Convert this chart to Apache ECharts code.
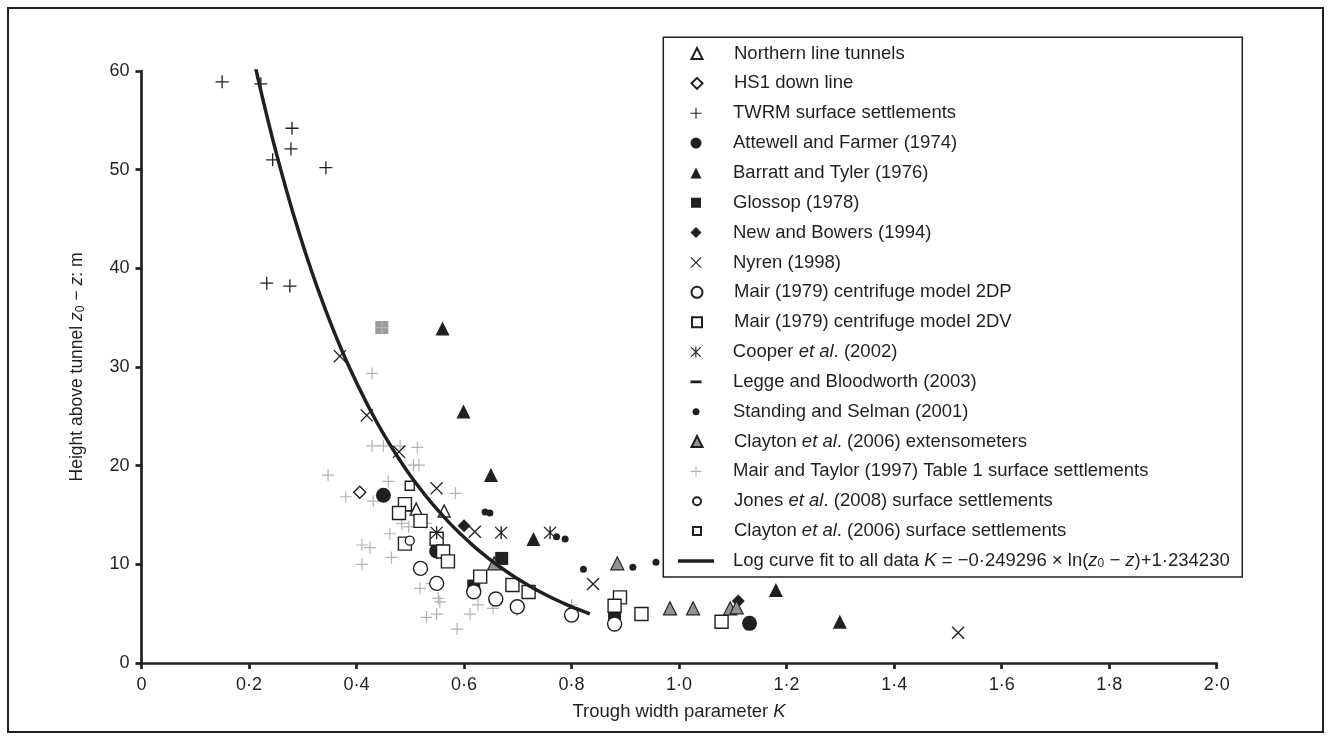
<!DOCTYPE html>
<html>
<head>
<meta charset="utf-8">
<title>Trough width parameter K against height above tunnel</title>
<script src="https://cdn.jsdelivr.net/npm/echarts@6/dist/echarts.min.js"></script>
<style>
  html, body { margin: 0; padding: 0; background: #fff; }
  #chart { width: 1329px; height: 740px; }
</style>
</head>
<body>
<div id="chart"></div>
<script>
// ---- data: [K, z0 - z (m)] ----
const northernLine = [[0.493, 16.0], [0.511, 15.6], [0.563, 15.4]];
const hs1DownLine = [[0.406, 17.3]];
const twrmSurface = [[0.150, 58.9], [0.222, 58.7], [0.280, 54.2], [0.278, 52.1], [0.244, 51.0],
  [0.343, 50.2], [0.233, 38.5], [0.276, 38.2]];
const attewellFarmer = [[0.450, 17.0], [0.549, 11.35], [1.131, 4.02]];
const barrattTyler = [[0.560, 33.9], [0.599, 25.5], [0.650, 19.05], [0.729, 12.56], [1.180, 7.4], [1.299, 4.18]];
const glossop = [[0.670, 10.6], [0.618, 7.8], [0.880, 5.03]];
const newBowers = [[0.600, 13.9], [1.110, 6.28]];
const nyren = [[0.369, 31.1], [0.419, 25.1], [0.479, 21.4], [0.549, 17.7], [0.620, 13.3], [0.840, 8.0], [1.519, 3.07]];
const mair2DP = [[0.519, 9.59], [0.549, 8.07], [0.618, 7.22], [0.659, 6.48], [0.699, 5.7], [0.800, 4.86], [0.880, 3.95]];
const mair2DV = [[0.490, 16.1], [0.479, 15.2], [0.519, 14.4], [0.490, 12.1], [0.549, 12.6], [0.561, 11.3],
  [0.570, 10.3], [0.630, 8.75], [0.690, 7.9], [0.720, 7.2], [0.890, 6.65], [0.880, 5.8], [0.930, 4.96], [1.079, 4.18]];
const cooper = [[0.549, 13.2], [0.669, 13.2], [0.760, 13.2]];
const leggeBloodworth = [];
const standingSelman = [[0.639, 15.3], [0.648, 15.2], [0.772, 12.8], [0.788, 12.56], [0.822, 9.5], [0.914, 9.7], [0.957, 10.2]];
const claytonExt = [[0.656, 10.1], [0.885, 10.1], [0.983, 5.54], [1.026, 5.54], [1.095, 5.54], [1.107, 5.64]];
const mairTaylor = [[0.447, 34.0], [0.429, 29.35], [0.429, 22.0], [0.450, 22.0], [0.481, 22.0], [0.513, 21.85], [0.506, 20.06],
  [0.516, 20.06], [0.347, 19.05], [0.459, 18.4], [0.584, 17.2], [0.380, 16.85], [0.431, 16.4], [0.484, 14.15],
  [0.497, 13.8], [0.462, 13.1], [0.529, 14.15], [0.410, 11.96], [0.425, 11.7], [0.465, 10.7], [0.410, 10.0],
  [0.518, 7.57], [0.540, 8.07], [0.552, 6.55], [0.555, 6.2], [0.530, 4.63], [0.549, 4.96], [0.587, 3.44],
  [0.626, 5.9], [0.611, 4.96], [0.654, 5.54], [0.698, 5.37], [0.800, 5.88]];
const jonesSurface = [[0.499, 12.4]];
const claytonSurface = [[0.499, 17.96]];
const greySquare = [[0.447, 34.0]];

// log fit K = A ln(z0 - z) + B, sampled over the plotted depth range
const FIT_A = -0.249296;
const FIT_B = 1.234230;
const fitDepths = [4.98, 5.5, 6, 7, 8, 9, 10, 11, 12, 14, 16, 18, 20, 23, 26, 30, 34, 38, 42, 46, 50, 55, 60.8];

const xTicks = [0, 0.2, 0.4, 0.6, 0.8, 1.0, 1.2, 1.4, 1.6, 1.8, 2.0];
const yTicks = [0, 10, 20, 30, 40, 50, 60];

// ---- styling ----
const INK = '#231f20';
const GREY = '#b4b4b4';
const FONT = '"Liberation Sans", Arial, Helvetica, sans-serif';
const FS = 18.5;

// filled-outline symbols (overlapping bars of the same winding)
const PLUS = 'path://M-10,-1 L10,-1 L10,1 L-10,1 Z M-1,-10 L1,-10 L1,10 L-1,10 Z';
const CROSS = 'path://M-8.29,-9.71 L9.71,8.29 L8.29,9.71 L-9.71,-8.29 Z M9.71,-8.29 L-8.29,9.71 L-9.71,8.29 L8.29,-9.71 Z';
const ASTERISK = 'path://M-1,-10 L1,-10 L1,10 L-1,10 Z M-8.29,-9.71 L9.71,8.29 L8.29,9.71 L-9.71,-8.29 Z M9.71,-8.29 L-8.29,9.71 L-9.71,8.29 L8.29,-9.71 Z';
const DASH = 'path://M0,0 L12,0 L12,3 L0,3 Z';

const hollow = { color: '#fff', borderColor: INK, borderWidth: 1.4, opacity: 1 };
const solid = { color: INK, opacity: 1 };

function scatter(name, data, symbol, size, itemStyle, z) {
  return { name, type: 'scatter', data, symbol, symbolSize: size, itemStyle, z: z || 2, silent: true };
}

const fitLine = fitDepths.map(d => [FIT_A * Math.log(d) + FIT_B, d]);
const FIT_NAME = 'Log curve fit to all data';

const series = [
  scatter('grey square', greySquare, 'rect', 13, { color: '#9a9a9a', opacity: 1 }, 1),
  scatter('Mair and Taylor (1997) Table 1 surface settlements', mairTaylor, PLUS, 12, { color: GREY, opacity: 1 }, 1.5),
  scatter('Northern line tunnels', northernLine, 'triangle', 12, hollow),
  scatter('HS1 down line', hs1DownLine, 'diamond', 12, hollow),
  scatter('TWRM surface settlements', twrmSurface, PLUS, 13, solid),
  scatter('Attewell and Farmer (1974)', attewellFarmer, 'circle', 15, solid),
  scatter('Barratt and Tyler (1976)', barrattTyler, 'triangle', 14, solid),
  scatter('Glossop (1978)', glossop, 'rect', 13, solid),
  scatter('New and Bowers (1994)', newBowers, 'diamond', 13, solid),
  scatter('Nyren (1998)', nyren, CROSS, 13, solid),
  scatter('Mair (1979) centrifuge model 2DP', mair2DP, 'circle', 14, hollow),
  scatter('Mair (1979) centrifuge model 2DV', mair2DV, 'rect', 13, hollow),
  scatter('Cooper et al. (2002)', cooper, ASTERISK, 13, solid),
  scatter('Legge and Bloodworth (2003)', leggeBloodworth, DASH, [12, 3], solid),
  scatter('Standing and Selman (2001)', standingSelman, 'circle', 7, solid),
  scatter('Clayton et al. (2006) extensometers', claytonExt, 'triangle', 13,
    { color: '#939393', borderColor: INK, borderWidth: 1.2, opacity: 1 }),
  scatter('Jones et al. (2008) surface settlements', jonesSurface, 'circle', 9, hollow),
  scatter('Clayton et al. (2006) surface settlements', claytonSurface, 'rect', 9, hollow),
  {
    name: FIT_NAME, type: 'line', data: fitLine, smooth: true,
    symbol: 'none', showSymbol: false, silent: true, z: 3,
    lineStyle: { color: INK, width: 3.5 }, itemStyle: { color: INK }
  }
];

// legend rows, top to bottom, with the icon box used for each
const legendRows = [
  ['Northern line tunnels', 11, 11], ['HS1 down line', 11, 11], ['TWRM surface settlements', 11, 11],
  ['Attewell and Farmer (1974)', 11, 11], ['Barratt and Tyler (1976)', 11, 11], ['Glossop (1978)', 10, 10],
  ['New and Bowers (1994)', 11, 11], ['Nyren (1998)', 11, 11], ['Mair (1979) centrifuge model 2DP', 11, 11],
  ['Mair (1979) centrifuge model 2DV', 10, 10], ['Cooper et al. (2002)', 11, 11],
  ['Legge and Bloodworth (2003)', 11, 3], ['Standing and Selman (2001)', 7, 7],
  ['Clayton et al. (2006) extensometers', 11, 11], ['Mair and Taylor (1997) Table 1 surface settlements', 11, 11],
  ['Jones et al. (2008) surface settlements', 8, 8], ['Clayton et al. (2006) surface settlements', 8, 8],
  [FIT_NAME, 36, 3.5]
];

const LEG_BOX = { x: 663.3, y: 37.3, w: 579, h: 539.7 };
const ROW0 = 53.5, ROW_STEP = 29.85, ICON_CX = 696, TEXT_X = 733, TEXT_LH = 20;

function legendLabel(name) {
  if (name === FIT_NAME) {
    return name + ' {i|K} = \u22120\u00b7249296 \u00d7 ln({i|z}{s|0} \u2212 {i|z})+1\u00b7234230';
  }
  return name.replace('et al.', '{i|et al}.');
}

const richText = {
  i: { fontStyle: 'italic', fontSize: FS, color: INK, fontFamily: FONT, lineHeight: TEXT_LH },
  s: { fontSize: 12, color: INK, fontFamily: FONT, lineHeight: 12, padding: [6, 0, 0, 0] }
};

const legends = legendRows.map(([name, w, h], i) => {
  const iconLeft = ICON_CX - w / 2;
  const item = { name };
  if (name === FIT_NAME) item.icon = 'rect';
  return {
    z: 6, orient: 'vertical', left: iconLeft, top: ROW0 + i * ROW_STEP - TEXT_LH / 2,
    padding: 0, itemWidth: w, itemHeight: h, selectedMode: false,
    data: [item], formatter: legendLabel,
    textStyle: {
      fontSize: FS, color: INK, fontFamily: FONT, lineHeight: TEXT_LH,
      padding: [0, 0, 0, TEXT_X - (iconLeft + w + 5)], rich: richText
    }
  };
});

const dotNum = v => (v === 0 ? '0' : v.toFixed(1).replace('.', '\u00b7'));

const chart = echarts.init(document.getElementById('chart'), null, { renderer: 'canvas' });
chart.setOption({
  animation: false,
  backgroundColor: '#fff',
  textStyle: { fontFamily: FONT, color: INK },
  grid: { left: 141.5, right: 112.3, top: 71, bottom: 77, containLabel: false },
  graphic: [
    {
      type: 'rect', silent: true, z: 0,
      shape: { x: 8, y: 8, width: 1315, height: 724 },
      style: { fill: 'none', stroke: INK, lineWidth: 2 }
    },
    {
      type: 'rect', silent: true, z: 5,
      shape: { x: LEG_BOX.x, y: LEG_BOX.y, width: LEG_BOX.w, height: LEG_BOX.h },
      style: { fill: '#fff', stroke: INK, lineWidth: 1.5 }
    }
  ],
  xAxis: {
    type: 'value', min: xTicks[0], max: xTicks[xTicks.length - 1], interval: 0.2,
    name: 'Trough width parameter {i|K}', nameLocation: 'middle', nameGap: 39,
    nameTextStyle: { fontSize: FS, color: INK, fontFamily: FONT,
      rich: { i: { fontStyle: 'italic', fontSize: FS, color: INK, fontFamily: FONT } } },
    axisLine: { onZero: false, lineStyle: { color: INK, width: 2.7 } },
    axisTick: { inside: false, length: 6, lineStyle: { color: INK, width: 2.7 } },
    axisLabel: { fontSize: 18, color: INK, margin: 13, formatter: dotNum },
    splitLine: { show: false }
  },
  yAxis: {
    type: 'value', min: yTicks[0], max: yTicks[yTicks.length - 1], interval: 10,
    name: 'Height above tunnel {i|z}{s|0} \u2212 {i|z}: m', nameLocation: 'middle', nameGap: 55, nameRotate: 90,
    nameTextStyle: { fontSize: 17.5, color: INK, fontFamily: FONT,
      rich: {
        i: { fontStyle: 'italic', fontSize: 17.5, color: INK, fontFamily: FONT },
        s: { fontSize: 12, color: INK, fontFamily: FONT, padding: [7, 0, 0, 0] }
      } },
    axisLine: { onZero: false, lineStyle: { color: INK, width: 2.7 } },
    axisTick: { inside: false, length: 6, lineStyle: { color: INK, width: 2.7 } },
    axisLabel: { fontSize: 18, color: INK, margin: 12 },
    splitLine: { show: false }
  },
  legend: legends,
  series
});
</script>
</body>
</html>
